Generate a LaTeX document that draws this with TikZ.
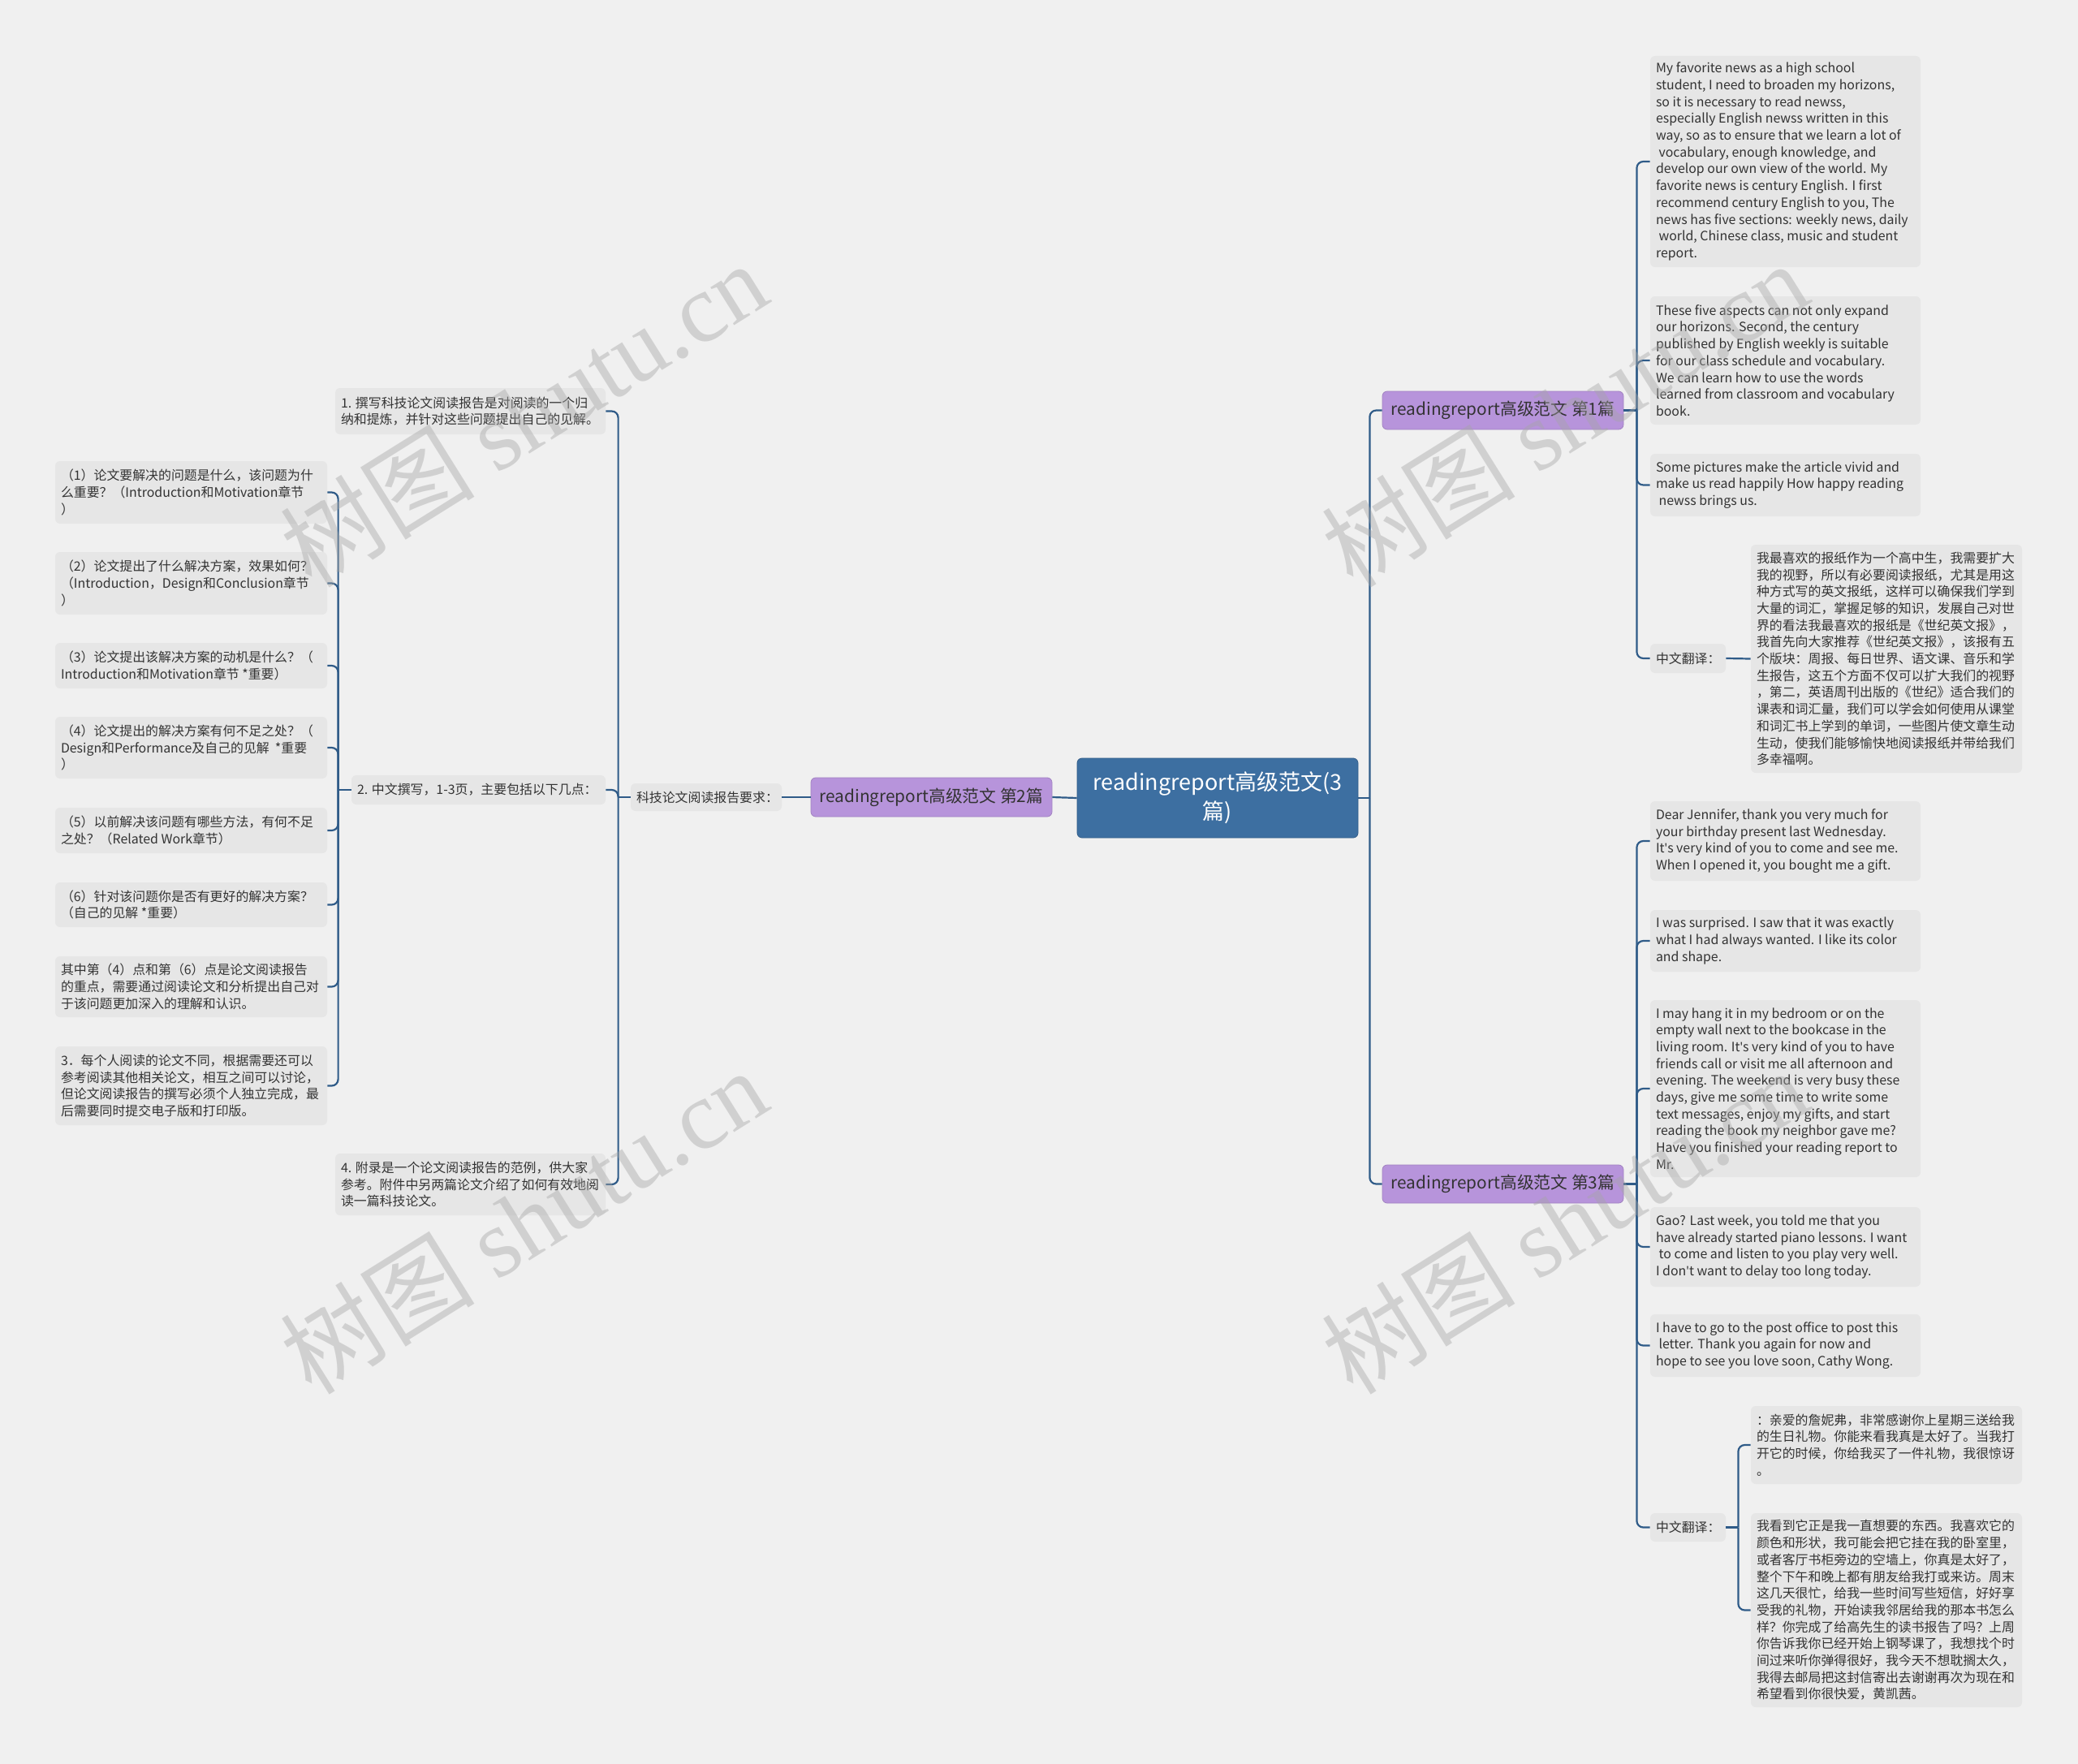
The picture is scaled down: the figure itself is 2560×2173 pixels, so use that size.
\documentclass[tikz,border=0pt]{standalone}
\usepackage{fontspec}
\setmainfont{Noto Sans CJK SC}
\newfontfamily\wmserif{Liberation Serif}
\newfontfamily\latinf{Noto Sans}
\newcommand\ap{{\latinf'}}
\usetikzlibrary{fit}
\definecolor{bg}{HTML}{F0F0F0}
\definecolor{boxfill}{HTML}{E6E6E6}
\definecolor{rootfill}{HTML}{3D6FA1}
\definecolor{purp}{HTML}{B794DB}
\definecolor{conncol}{HTML}{2F5B88}
\definecolor{txt}{HTML}{333333}
\tikzset{
 leaf/.style={fill=boxfill, rounded corners=3pt, inner sep=0pt},
 leaftext/.style={anchor=west, align=left, inner sep=0pt, text=txt, font=\fontsize{7.95}{10.35}\selectfont},
 conn/.style={draw=conncol, line width=1.1pt, rounded corners=4pt},
 subbox/.style={fill=purp, draw=purp!88!black, line width=0.4pt, rounded corners=3pt, inner sep=0pt},
 subtext/.style={inner sep=0pt, text=txt, font=\fontsize{10.4}{13}\selectfont},
 rootbox/.style={fill=rootfill, draw=rootfill!85!black, line width=0.4pt, rounded corners=3pt, inner sep=0pt},
 roottext/.style={inner sep=0pt, text=white, align=center, font=\fontsize{13.5}{18}\selectfont},
 wm/.style={text=gray!70, opacity=0.42, font=\fontsize{60}{60}\selectfont, rotate=32, inner sep=0pt},
}
\newcommand\leafbox[6]{%
 \node[leaf, fit={(#2,#3) (#4,#5)}] (#1) {};
 \node[leaftext] (#1-t) at ([xshift=3.5pt]#1.west) {#6};}
\newcommand\brR[3]{\draw[conn] ([xshift=#3]#1.east) |- (#2.west);}
\newcommand\brL[3]{\draw[conn] ([xshift=-#3]#1.west) |- (#2.east);}
\begin{document}
\begin{tikzpicture}[x=0.5pt,y=-0.5pt]
\fill[bg] (0,0) rectangle (2560,2173);
\useasboundingbox (0,0) rectangle (2560,2173);

% root and main topics
\node[rootbox, fit={(1327,934) (1673,1032)}] (root) {};
\node[roottext] (root-t) at (root.center) {readingreport高级范文(3\\篇)};
\node[subbox, fit={(999,958) (1296,1006)}] (P2) {};
\node[subtext] (P2-t) at (P2.center) {readingreport高级范文 第2篇};
\node[subbox, fit={(1703,482) (2000,529)}] (P1) {};
\node[subtext] (P1-t) at (P1.center) {readingreport高级范文 第1篇};
\node[subbox, fit={(1703,1435) (2000,1482)}] (P3) {};
\node[subtext] (P3-t) at (P3.center) {readingreport高级范文 第3篇};

% right: part 1
\leafbox{L1a}{2033}{69}{2366}{329}{My favorite news as a high school\\student, I need to broaden my horizons,\\so it is necessary to read newss,\\especially English newss written in this\\way, so as to ensure that we learn a lot of\\\ vocabulary, enough knowledge, and\\develop our own view of the world. My\\favorite news is century English. I first\\recommend century English to you, The\\news has five sections: weekly news, daily\\\ world, Chinese class, music and student\\report.}
\leafbox{L1b}{2033}{365}{2366}{523}{These five aspects can not only expand\\our horizons. Second, the century\\published by English weekly is suitable\\for our class schedule and vocabulary.\\We can learn how to use the words\\learned from classroom and vocabulary\\book.}
\leafbox{L1c}{2033}{559}{2366}{636}{Some pictures make the article vivid and\\make us read happily How happy reading\\\ newss brings us.}
\leafbox{L1d}{2033}{793}{2126}{829}{中文翻译：}
\leafbox{L1e}{2157}{671}{2491}{952}{我最喜欢的报纸作为一个高中生，我需要扩大\\我的视野，所以有必要阅读报纸，尤其是用这\\种方式写的英文报纸，这样可以确保我们学到\\大量的词汇，掌握足够的知识，发展自己对世\\界的看法我最喜欢的报纸是《世纪英文报》，\\我首先向大家推荐《世纪英文报》，该报有五\\个版块：周报、每日世界、语文课、音乐和学\\生报告，这五个方面不仅可以扩大我们的视野\\，第二，英语周刊出版的《世纪》适合我们的\\课表和词汇量，我们可以学会如何使用从课堂\\和词汇书上学到的单词，一些图片使文章生动\\生动，使我们能够愉快地阅读报纸并带给我们\\多幸福啊。}

% right: part 3
\leafbox{R3a}{2033}{987}{2366}{1085}{Dear Jennifer, thank you very much for\\your birthday present last Wednesday.\\It\ap s very kind of you to come and see me.\\When I opened it, you bought me a gift.}
\leafbox{R3b}{2033}{1121}{2366}{1197}{I was surprised. I saw that it was exactly\\what I had always wanted. I like its color\\and shape.}
\leafbox{R3c}{2033}{1232}{2366}{1450}{I may hang it in my bedroom or on the\\empty wall next to the bookcase in the\\living room. It\ap s very kind of you to have\\friends call or visit me all afternoon and\\evening. The weekend is very busy these\\days, give me some time to write some\\text messages, enjoy my gifts, and start\\reading the book my neighbor gave me?\\Have you finished your reading report to\\Mr.}
\leafbox{R3d}{2033}{1487}{2366}{1585}{Gao? Last week, you told me that you\\have already started piano lessons. I want\\\ to come and listen to you play very well.\\I don\ap t want to delay too long today.}
\leafbox{R3e}{2033}{1619}{2366}{1696}{I have to go to the post office to post this\\\ letter. Thank you again for now and\\hope to see you love soon, Cathy Wong.}
\leafbox{R3f}{2033}{1864}{2126}{1899}{中文翻译：}
\leafbox{R3g}{2157}{1732}{2491}{1828}{：亲爱的詹妮弗，非常感谢你上星期三送给我\\的生日礼物。你能来看我真是太好了。当我打\\开它的时候，你给我买了一件礼物，我很惊讶\\。}
\leafbox{R3h}{2157}{1864}{2491}{2103}{我看到它正是我一直想要的东西。我喜欢它的\\颜色和形状，我可能会把它挂在我的卧室里，\\或者客厅书柜旁边的空墙上，你真是太好了，\\整个下午和晚上都有朋友给我打或来访。周末\\这几天很忙，给我一些时间写些短信，好好享\\受我的礼物，开始读我邻居给我的那本书怎么\\样？你完成了给高先生的读书报告了吗？上周\\你告诉我你已经开始上钢琴课了，我想找个时\\间过来听你弹得很好，我今天不想耽搁太久，\\我得去邮局把这封信寄出去谢谢再次为现在和\\希望看到你很快爱，黄凯茜。}

% left: part 2
\leafbox{K}{777}{965}{963}{999}{科技论文阅读报告要求：}
\leafbox{N1}{413}{478}{746}{535}{1. 撰写科技论文阅读报告是对阅读的一个归\\纳和提炼，并针对这些问题提出自己的见解。}
\leafbox{N2}{433}{955}{746}{991}{2. 中文撰写，1-3页，主要包括以下几点：}
\leafbox{N4}{413}{1421}{746}{1497}{4. 附录是一个论文阅读报告的范例，供大家\\参考。附件中另两篇论文介绍了如何有效地阅\\读一篇科技论文。}
\leafbox{c1}{68}{568}{403}{645}{（1）论文要解决的问题是什么，该问题为什\\么重要？（Introduction和Motivation章节\\）}
\leafbox{c2}{68}{680}{403}{757}{（2）论文提出了什么解决方案，效果如何？\\（Introduction，Design和Conclusion章节\\）}
\leafbox{c3}{68}{792}{403}{848}{（3）论文提出该解决方案的动机是什么？（\\Introduction和Motivation章节 *重要）}
\leafbox{c4}{68}{883}{403}{959}{（4）论文提出的解决方案有何不足之处？（\\Design和Performance及自己的见解 \ *重要\\）}
\leafbox{c5}{68}{995}{403}{1051}{（5）以前解决该问题有哪些方法，有何不足\\之处？（Related Work章节）}
\leafbox{c6}{68}{1087}{403}{1142}{（6）针对该问题你是否有更好的解决方案？\\（自己的见解 *重要）}
\leafbox{c7}{68}{1178}{403}{1253}{其中第（4）点和第（6）点是论文阅读报告\\的重点，需要通过阅读论文和分析提出自己对\\于该问题更加深入的理解和认识。}
\leafbox{c8}{68}{1289}{403}{1386}{3．每个人阅读的论文不同，根据需要还可以\\参考阅读其他相关论文，相互之间可以讨论，\\但论文阅读报告的撰写必须个人独立完成，最\\后需要同时提交电子版和打印版。}

% connectors
\draw[conn] (root.west) -- (P2.east);
\draw[conn] (root.east) -- ++(7pt,0);
\brR{root}{P1}{7pt}
\brR{root}{P3}{7pt}
\draw[conn] (P1.east) -- ++(8pt,0);
\foreach \c in {L1a,L1b,L1c,L1d} {\brR{P1}{\c}{8pt}}
\draw[conn] (L1d.east) -- (L1e.west);
\draw[conn] (P3.east) -- ++(8pt,0);
\foreach \c in {R3a,R3b,R3c,R3d,R3e,R3f} {\brR{P3}{\c}{8pt}}
\draw[conn] (R3f.east) -- ++(7.5pt,0);
\brR{R3f}{R3g}{7.5pt}
\brR{R3f}{R3h}{7.5pt}
\draw[conn] (P2.west) -- (K.east);
\draw[conn] (K.west) -- ++(-7.5pt,0);
\foreach \c in {N1,N2,N4} {\brL{K}{\c}{7.5pt}}
\draw[conn] (N2.west) -- ++(-8pt,0);
\foreach \c in {c1,c2,c3,c4,c5,c6,c7,c8} {\brL{N2}{\c}{8pt}}

% watermarks
\node[wm] (wm1) at (645,510) {树图 {\wmserif shutu.cn}};
\node[wm] (wm2) at (645,1504) {树图 {\wmserif shutu.cn}};
\node[wm] (wm3) at (1927,510) {树图 {\wmserif shutu.cn}};
\node[wm] (wm4) at (1927,1504) {树图 {\wmserif shutu.cn}};
\end{tikzpicture}
\end{document}
